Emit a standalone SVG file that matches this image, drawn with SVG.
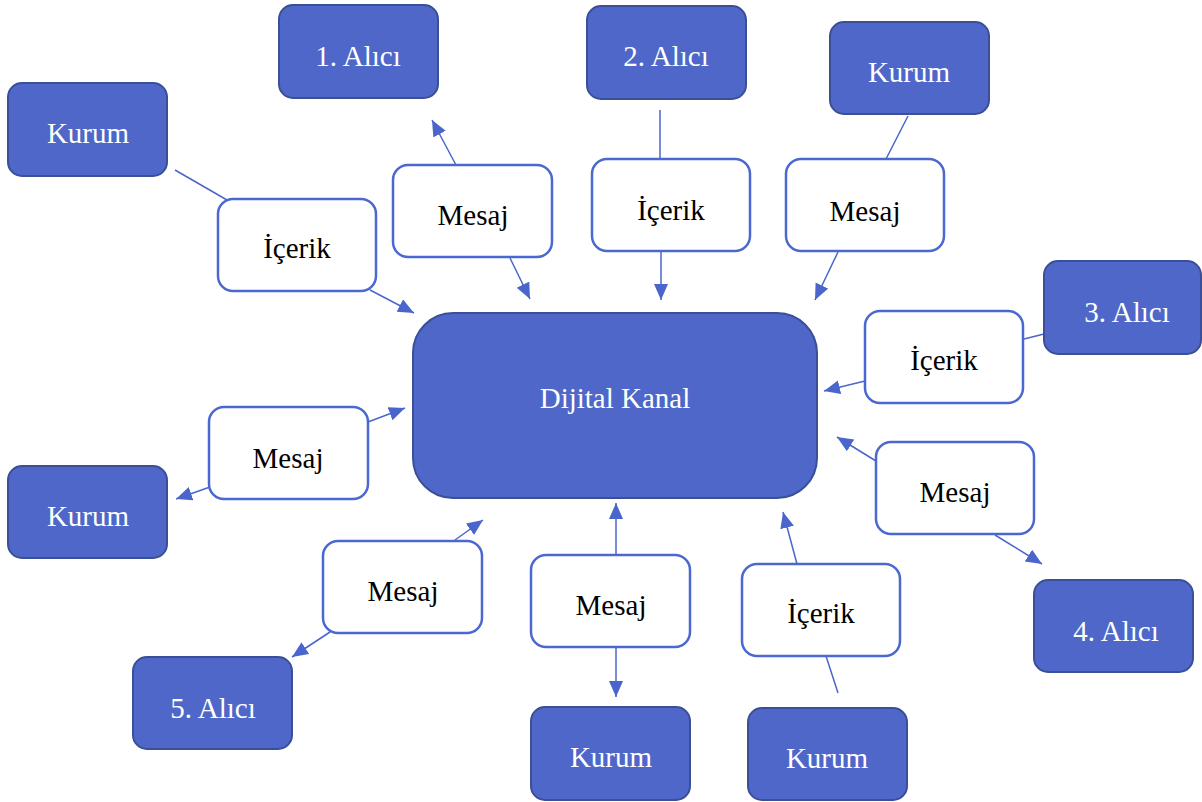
<svg xmlns="http://www.w3.org/2000/svg" width="1202" height="802" viewBox="0 0 1202 802">
<defs>
<marker id="arr" markerUnits="userSpaceOnUse" markerWidth="18" markerHeight="16" refX="16" refY="7" orient="auto">
<path d="M0,0 L16,7 L0,14 Z" fill="#4A66CC"/>
</marker>
<style>
.dark rect{fill:#4E67C8;stroke:#3A4F97;stroke-width:2}
.lab rect{fill:#fff;stroke:#4A68CF;stroke-width:2.5}
text{font-family:'Liberation Serif','Times New Roman','DejaVu Serif',serif;font-size:29px;text-anchor:middle}
.dark text{fill:#fff}
.lab text{fill:#000}
.con line{stroke:#4A66CC;stroke-width:1.5}
.con line.a{marker-end:url(#arr)}
</style>
</defs>
<rect width="1202" height="802" fill="#fff"/>
<g class="con">
<line x1="175" y1="170" x2="227" y2="200"/>
<line class="a" x1="370" y1="290" x2="414" y2="313"/>
<line class="a" x1="456" y1="165" x2="432" y2="120"/>
<line class="a" x1="510" y1="258" x2="530" y2="299"/>
<line x1="660" y1="110" x2="660" y2="159"/>
<line class="a" x1="661" y1="251" x2="661" y2="300"/>
<line x1="908" y1="116" x2="886" y2="159"/>
<line class="a" x1="838" y1="252" x2="815" y2="300"/>
<line x1="1044" y1="334" x2="1024" y2="339"/>
<line class="a" x1="865" y1="381" x2="824" y2="391"/>
<line class="a" x1="876" y1="461" x2="837" y2="437"/>
<line class="a" x1="995" y1="535" x2="1042" y2="564"/>
<line class="a" x1="368" y1="422" x2="405" y2="408"/>
<line class="a" x1="210" y1="487" x2="176" y2="499"/>
<line class="a" x1="455" y1="540" x2="483" y2="520"/>
<line class="a" x1="330" y1="632" x2="292" y2="657"/>
<line class="a" x1="616" y1="555" x2="616" y2="503"/>
<line class="a" x1="616" y1="647" x2="616" y2="697"/>
<line class="a" x1="797" y1="564" x2="783" y2="512"/>
<line x1="838" y1="693" x2="826" y2="656"/>
</g>
<g id="dijital" class="dark"><rect x="413" y="313" width="404" height="185" rx="40"/><text x="615" y="408">Dijital Kanal</text></g>
<g id="kurum1" class="dark"><rect x="8" y="83" width="159" height="93" rx="14"/><text x="88" y="143">Kurum</text></g>
<g id="alici1" class="dark"><rect x="279" y="5" width="159" height="93" rx="14"/><text x="358" y="66">1. Alıcı</text></g>
<g id="alici2" class="dark"><rect x="587" y="6" width="159" height="93" rx="14"/><text x="666" y="66">2. Alıcı</text></g>
<g id="kurum2" class="dark"><rect x="830" y="22" width="159" height="92" rx="14"/><text x="909" y="82">Kurum</text></g>
<g id="alici3" class="dark"><rect x="1044" y="261" width="157" height="93" rx="14"/><text x="1127" y="322">3. Alıcı</text></g>
<g id="alici4" class="dark"><rect x="1034" y="580" width="159" height="92" rx="14"/><text x="1116" y="641">4. Alıcı</text></g>
<g id="kurum3" class="dark"><rect x="8" y="466" width="159" height="92" rx="14"/><text x="88" y="526">Kurum</text></g>
<g id="alici5" class="dark"><rect x="133" y="657" width="159" height="92" rx="14"/><text x="213" y="718">5. Alıcı</text></g>
<g id="kurum4" class="dark"><rect x="531" y="707" width="159" height="93" rx="14"/><text x="611" y="767">Kurum</text></g>
<g id="kurum5" class="dark"><rect x="748" y="708" width="159" height="92" rx="14"/><text x="827" y="768">Kurum</text></g>
<g id="icerik1" class="lab"><rect x="218" y="199" width="158" height="92" rx="15"/><text x="297" y="258">İçerik</text></g>
<g id="mesaj1" class="lab"><rect x="393" y="165" width="159" height="92" rx="15"/><text x="473" y="225">Mesaj</text></g>
<g id="icerik2" class="lab"><rect x="592" y="159" width="158" height="92" rx="15"/><text x="671" y="220">İçerik</text></g>
<g id="mesaj2" class="lab"><rect x="786" y="159" width="158" height="92" rx="15"/><text x="865" y="221">Mesaj</text></g>
<g id="icerik3" class="lab"><rect x="865" y="311" width="158" height="92" rx="15"/><text x="944" y="370">İçerik</text></g>
<g id="mesaj3" class="lab"><rect x="876" y="442" width="158" height="92" rx="15"/><text x="955" y="502">Mesaj</text></g>
<g id="mesaj4" class="lab"><rect x="209" y="407" width="159" height="92" rx="15"/><text x="288" y="468">Mesaj</text></g>
<g id="mesaj5" class="lab"><rect x="323" y="541" width="159" height="92" rx="15"/><text x="403" y="601">Mesaj</text></g>
<g id="mesaj6" class="lab"><rect x="531" y="555" width="159" height="92" rx="15"/><text x="611" y="615">Mesaj</text></g>
<g id="icerik4" class="lab"><rect x="742" y="564" width="158" height="92" rx="15"/><text x="821" y="623">İçerik</text></g>
</svg>
